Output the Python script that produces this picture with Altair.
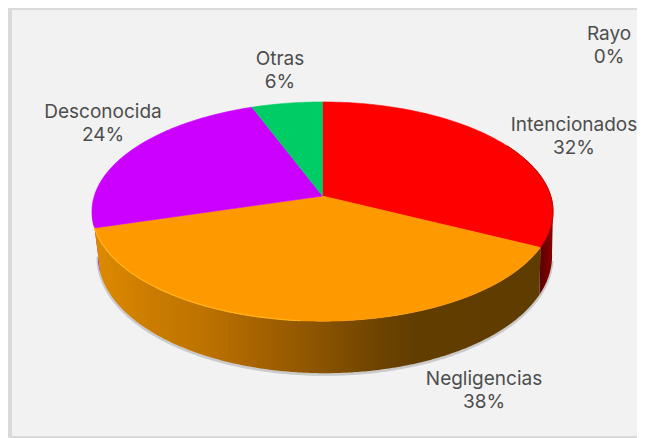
import altair as alt
import numpy as np
import pandas as pd

# ---- chart values
categories = ["Intencionados", "Negligencias", "Desconocida", "Otras", "Rayo"]
shares = [32.4, 38.0, 23.9, 5.7, 0]
colors = ["#ff0000", "#ff9900", "#cc00ff", "#00cc66", "#7f7f7f"]

# ---- label anchors (reference pixels)
label_x = [574, 484, 103, 280, 609]
label_y = [125, 379, 112, 59, 34]

# ---- tilted-disc geometry (reference pixels)
CX, CY = 322.5, 196
A, B, K = 228.2, 107.4, 0.142
PW, PH = 629, 430


def rim(deg):
    t = np.radians(deg)
    d = 1 + K * np.cos(t)
    return CX + A * np.sin(t) / d, CY - B * np.cos(t) / d


def lower_rim(deg):
    xs, ys = rim(deg)
    return CX + 2.5 + (xs - CX) * 0.985, ys + 43 - 9 * np.cos(np.radians(deg))


edges = np.concatenate([[0], np.cumsum(shares)]) * 3.6
a_split0, a_split1 = edges[1], edges[2]

# slices of the top face
rows = []
for name, a0, a1 in zip(categories, edges[:-1], edges[1:]):
    if a1 <= a0:
        continue
    angs = np.linspace(a0, a1, int(a1 - a0) + 2)
    xs, ys = rim(angs)
    rows.append(dict(cat=name, o=-1, x=CX, y=CY))
    for i, (xx, yy) in enumerate(zip(xs, ys)):
        rows.append(dict(cat=name, o=i, x=float(xx), y=float(yy)))
    rows.append(dict(cat=name, o=len(xs), x=CX, y=CY))
top = pd.DataFrame(rows)


def rim_frame(a0, a1, fn=rim):
    angs = np.linspace(a0, a1, int(abs(a1 - a0)) * 2 + 2)
    xs, ys = fn(angs)
    return pd.DataFrame(dict(o=np.arange(len(angs)), x=xs, y=ys))


def wall_frame(a0, a1):
    up = rim_frame(a0, a1)
    dn = rim_frame(a1, a0, lower_rim)
    dn["o"] += len(up)
    closing = up.iloc[[0]].assign(o=len(up) + len(dn))
    return pd.concat([up, dn, closing], ignore_index=True)


xsc = alt.Scale(domain=[8, 8 + PW], range=[0, PW], nice=False, zero=False)
ysc = alt.Scale(domain=[8, 8 + PH], range=[0, PH], nice=False, zero=False)
X = lambda f="x": alt.X(f"{f}:Q", scale=xsc, axis=None)
Y = lambda f="y": alt.Y(f"{f}:Q", scale=ysc, axis=None)

layers = []

# panel and frame
layers.append(
    alt.Chart(pd.DataFrame({"a": [0]})).mark_rect(color="#dadada").encode(
        x=alt.value(0), x2=alt.value(PW), y=alt.value(0), y2=alt.value(PH)
    )
)
layers.append(
    alt.Chart(pd.DataFrame({"a": [0]})).mark_rect(color="#f2f2f2").encode(
        x=alt.value(4), x2=alt.value(PW), y=alt.value(2), y2=alt.value(428)
    )
)

# soft shadow under the disc's wall
sh = rim_frame(100, 262, lower_rim)
sh["y"] += 1.2
layers.append(
    alt.Chart(sh).mark_line(color="#555555", opacity=0.25, strokeWidth=3).encode(
        x=X(), y=Y(), order="o:Q"
    )
)

# walls
layers.append(
    alt.Chart(wall_frame(97, a_split0)).mark_line(
        filled=True,
        strokeWidth=0,
        color=alt.Gradient(
            gradient="linear", x1=0, x2=1, y1=0, y2=0,
            stops=[alt.GradientStop(color="#5a0000", offset=0), alt.GradientStop(color="#8a0000", offset=1)],
        ),
    ).encode(x=X(), y=Y(), order="o:Q")
)
layers.append(
    alt.Chart(wall_frame(a_split1, 265)).mark_line(filled=True, strokeWidth=0, color="#a800d2").encode(
        x=X(), y=Y(), order="o:Q"
    )
)
layers.append(
    alt.Chart(wall_frame(a_split0, a_split1)).mark_line(
        filled=True,
        strokeWidth=0,
        color=alt.Gradient(
            gradient="linear", x1=0, x2=1, y1=0, y2=0,
            stops=[
                alt.GradientStop(color="#de8a00", offset=0),
                alt.GradientStop(color="#cc7d00", offset=0.12),
                alt.GradientStop(color="#bd7200", offset=0.25),
                alt.GradientStop(color="#a56200", offset=0.37),
                alt.GradientStop(color="#8a5300", offset=0.51),
                alt.GradientStop(color="#6e4400", offset=0.63),
                alt.GradientStop(color="#623d00", offset=0.72),
                alt.GradientStop(color="#5f3c00", offset=1),
            ],
        ),
    ).encode(x=X(), y=Y(), order="o:Q")
)

# top face
scale_c = alt.Scale(domain=categories, range=colors)
layers.append(
    alt.Chart(top).mark_line(filled=True, strokeWidth=0.6, interpolate="linear").encode(
        x=X(), y=Y(), order="o:Q",
        fill=alt.Fill("cat:N", scale=scale_c, legend=None),
        stroke=alt.Stroke("cat:N", scale=scale_c, legend=None),
    )
)

# rim highlights
layers.append(
    alt.Chart(rim_frame(185, a_split1)).mark_line(color="#ffb41e", strokeWidth=1.2, strokeCap="round").encode(
        x=X(), y=Y(), order="o:Q"
    )
)
layers.append(
    alt.Chart(rim_frame(60, a_split0)).mark_line(color="#b00000", strokeWidth=1).encode(
        x=X(), y=Y(), order="o:Q"
    )
)

# labels
lab = pd.DataFrame(dict(cat=categories, share=shares, lx=label_x, ly=label_y))
lab["pct"] = lab["share"].round().astype(int).astype(str) + "%"
lab["ly2"] = lab["ly"] + 23
font = dict(font="Inter", fontSize=19, color="#4d4d4d", baseline="middle", align="center")
layers.append(alt.Chart(lab).mark_text(**font).encode(x=X("lx"), y=Y("ly"), text="cat:N"))
layers.append(alt.Chart(lab).mark_text(**font).encode(x=X("lx"), y=Y("ly2"), text="pct:N"))

chart = (
    alt.layer(*layers)
    .properties(
        width=PW,
        height=PH,
        padding=0,
        background="#ffffff",
        autosize=alt.AutoSizeParams(type="none", contains="padding"),
    )
    .configure_view(stroke=None)
)
chart.save("out.html", embed_options={"renderer": "svg", "actions": False})
